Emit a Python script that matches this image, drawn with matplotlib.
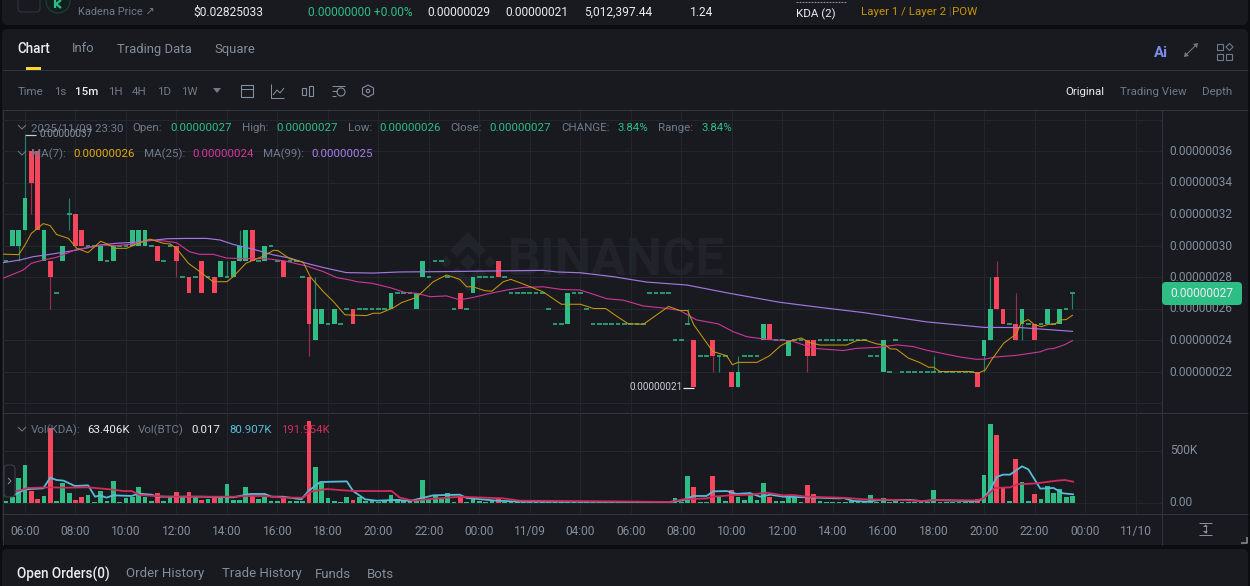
import matplotlib
matplotlib.use("Agg")
import matplotlib.pyplot as plt
from matplotlib.patches import FancyBboxPatch, Rectangle, Circle, Polygon
from matplotlib.transforms import ScaledTranslation

plt.rcParams['font.family'] = ['Roboto', 'DejaVu Sans']

# ---------- data (prices in units of 1e-8, volume in thousands) ----------
first_index = -3
opens = [
 29,30,30,31,36,36,29,29,27,29,
 32,32,31,30,30,29,29,29,30,30,
 30,30,30,30,30,29,30,30,28,28,
 28,29,28,28,28,28,28,29,29,31,
 29,29,30,29,29,29,29,28,28,24,
 25,25,25,25,26,26,26,26,26,26,
 26,26,27,27,27,26,28,28,29,29,
 28,26,27,26,27,28,28,28,29,28,
 27,27,27,27,27,27,26,25,25,25,
 27,27,26,25,25,25,25,25,25,25,
 25,25,27,27,27,27,24,24,25,24,
 23,23,24,23,23,22,21,23,23,23,
 24,25,24,24,23,24,24,24,24,24,
 24,24,24,24,24,24,24,23,23,22,
 22,24,22,22,22,22,22,22,22,22,
 22,22,22,22,22,23,24,28,26,25,
 25,25,25,25,25,25,25,25,26,27]
closes = [
 29,31,31,33,34,31,31,28,27,30,
 32,30,30,30,30,30,29,30,30,30,
 31,31,31,30,29,29,30,29,28,27,
 28,27,28,27,29,28,29,30,31,29,
 29,30,30,29,28,29,29,28,25,26,
 26,25,26,25,26,25,26,26,26,26,
 26,27,27,27,27,27,29,28,29,29,
 28,26,26,26,28,28,28,28,28,28,
 27,27,27,27,27,27,26,25,25,27,
 27,27,26,25,25,25,25,25,25,25,
 25,25,27,27,27,27,24,24,25,21,
 23,23,23,23,23,21,22,23,23,23,
 25,24,24,24,24,24,24,23,23,24,
 24,24,24,24,24,24,24,23,23,24,
 22,24,22,22,22,22,22,22,22,22,
 22,22,22,22,21,24,26,26,25,25,
 24,26,25,24,25,26,25,26,26,27]
wick_index = [-1,0,1,4,7,24,32,34,45,46,105,109,110,113,124,144,152,153,154,157,158,166]
wick_high  = [31,37,36,29,33,30,29,31,28,28,26,24,23,23,24,23,24,28,29,27,26,27]
wick_low   = [29,31,32,26,31,28,28,29,23,24,25,22,22,21,22,22,22,24,26,24,24,26]
volumes = [
 20,60,235,360,115,35,65,717,15,187,
 92,25,57,73,13,115,19,213,13,48,
 60,150,60,15,98,15,57,108,57,105,
 60,28,35,50,50,184,28,28,150,65,
 40,57,15,20,50,15,20,18,777,346,
 194,48,15,13,54,25,60,19,15,13,
 19,73,35,28,15,28,216,35,79,41,
 92,13,60,10,48,19,13,19,35,13,
 13,12,11,10,10,10,10,10,9,9,
 9,9,8,8,8,8,8,8,8,8,
 8,8,8,8,8,8,50,10,257,150,
 13,13,260,60,15,127,57,28,73,28,
 194,60,15,15,60,60,13,171,89,19,
 13,13,13,13,20,13,13,73,13,50,
 13,25,13,13,13,13,13,120,13,13,
 13,13,13,13,41,270,752,644,155,15,
 422,197,19,86,35,162,100,130,54,63.4]

ma7_i = [-3.4,-1,0,1,2.9,4,5,6.9,8.2,10,12,13,14.3,16.1,18,19.8,21.9,23,24,25.9,27.7,29.8,32,33,35,37.8,39.4,40.1,42,
         44.1,45.2,47.3,48.9,50.7,54.1,55.2,56.3,58.4,59.7,62,63.1,64.7,66.8,68.9,70,71,72.9,74,75.8,77,79,82.1,85,88,
         90.1,92,94,95.6,98,102,103.8,105,106,109,111.2,112.1,113,116,118,119.7,121,123,124.4,126,130.2,131.8,133.1,135,
         136.3,137.1,138.1,140,141.8,143.2,144,145,149.8,151,152.2,153.2,155.1,157.1,157.9,159,160,161.1,162.2,163.2,164,165,166]
ma7_v = [29.45,29.42,30.03,30.77,31.39,31.26,30.7,30.45,29.82,29.55,30.27,30.1,29.82,29.82,30.14,30.41,30.14,30.1,29.82,28.87,28.34,27.7,27.7,28.02,28.87,29.33,29.7,29.67,29.15,
         28.93,28.02,27.06,26.43,25.6,25.55,25.7,25.7,26.05,26.38,26.7,27.1,27.7,28.13,27.85,27.38,27.38,27.13,27.1,27.7,27.85,27.55,27.06,26.27,26.27,
         26,26,25.45,25.03,25,26.13,25.87,25.87,24.96,23.27,23,22.43,22.58,22.58,23,23.62,23.9,24.13,23.83,23.68,23.68,23.96,24,23.75,
         23.69,23.44,23.42,22.85,22.57,22.27,22.27,22,22,21.88,22.1,22.75,23.8,24.38,25.1,25.3,24.96,24.85,25,25,25.27,25.3,25.57]
ma25_i = [-3.5,-1.8,-0.3,1,2.9,5,6.6,8.2,10.3,12.4,14.5,17.2,19.8,21.9,24,26.1,27.7,29.8,32,34,38.3,41,
          44.6,47.3,49.4,51.5,52.6,55,57.9,60.2,62.1,64.2,66.8,68.9,71,73.7,76.3,79,82.1,85,88,
          90.1,92.2,94.8,98,101.2,103.8,106.4,109.9,112.2,114.4,117.5,121.5,125,129.7,131.8,135,
          138.2,140.8,142.9,148.2,150.8,152.2,153.8,157,160.9,162,163,164.7,166]
ma25_v = [27.92,28.19,28.44,28.87,29.08,29.25,29.5,29.76,29.88,30.03,29.99,30.1,30.35,30.29,30.18,29.6,29.44,29.44,29.2,29.18,29.16,29.03,
          28.7,28.34,27.96,27.81,27.7,27.6,27.32,27.02,26.96,26.75,26.8,26.55,26.7,26.96,27.17,27.34,27.38,27.21,27.17,
          26.9,26.62,26.53,26.16,26.03,25.87,25.28,25.02,24.53,24.21,24.04,23.94,23.47,23.33,23.47,23.53,
          23.69,23.58,23.35,22.92,22.77,22.79,22.92,23.02,23.25,23.42,23.46,23.69,23.96]
ma99_i = [-3.5,-0.8,1.3,4,8.2,11.9,14.5,17.2,19.8,22.5,25.6,28.8,30.9,33,36.2,39.4,42,44.6,47.3,50.9,55.2,59.4,65.8,73.7,82.1,84.3,88,
          93.2,98.5,104.9,111.7,119.7,126,132.9,142.9,152,157.7,166]
ma99_v = [28.91,29.08,29.29,29.44,29.71,30.03,30.14,30.2,30.31,30.43,30.45,30.45,30.35,30.07,29.76,29.4,29.2,28.87,28.6,28.28,28.25,28.32,28.34,28.38,28.42,28.32,28.27,
          28.02,27.68,27.49,26.96,26.39,26.07,25.74,25.15,24.8,24.79,24.55]
vol_ma5_i = [-3.2,-1.8,0,2.9,4,5,6.1,7.9,10,11.1,11.9,12.9,14,16.9,18,20.1,20.9,27.7,33,35.7,38,39.1,40.9,43.8,44.9,46.8,51,52,53.9,55.7,58.9,61,62.5,
             64.7,68.9,70,74.7,78.4,102.2,104.3,105.9,108,109.1,111.2,112.8,114.9,116.5,118.1,120.2,123.9,129,
             129.7,131.3,133.4,135.5,140.3,142.4,144,150.8,151.9,153,154,155,156.1,158,159,160.9,163,164.5,166.1]
vol_ma5_v = [73,73,130,140,241,219,213,162,168,60,73,51,73,67,89,79,60,60,54,86,86,60,60,35,114,200,206,114,35,22,29,19,41,
             73,79,48,22,13,10,25,67,67,111,114,86,95,60,79,60,54,44,
             48,19,13,29,29,16,29,16,41,130,248,270,270,349,321,137,143,92,83]
vol_ma10_i = [-1.6,0.5,4,6.6,10,13.5,15.6,16.9,18.2,22.5,27.7,33,35.7,38,40.9,44.1,45.2,47.8,52,58.1,59.4,61.5,62.5,
              68.9,75.8,78.4,102.2,104.3,108,109.1,111.7,114.9,117.5,120.2,121.8,123.9,129,
              130.2,132.9,138.1,142.4,144,150.8,151.9,153.7,156.1,157.2,160.3,163.5,164.8,166.1]
vol_ma10_v = [108,143,149,146,149,130,114,114,76,60,60,60,67,67,51,51,108,133,114,114,51,22,29,
              60,44,22,10,35,44,60,73,79,98,73,76,60,51,
              48,35,29,19,29,25,41,143,149,178,187,213,219,203]

price_ticks = [22,24,26,28,30,32,34,36]
time_ticks = list(range(0,177,8))
time_labels = ["06:00","08:00","10:00","12:00","14:00","16:00","18:00","20:00","22:00","00:00","11/09",
               "04:00","06:00","08:00","10:00","12:00","14:00","16:00","18:00","20:00","22:00","00:00","11/10"]

# ---------- style ----------
W, H = 1250, 586
PANEL, GAP = '#181a20', '#0b0d10'
GRID, SEP = '#22262d', '#2f3640'
MUTED, DIM, WHITE = '#707a8a', '#848e9c', '#eaecef'
GREEN, RED = '#2ebd85', '#f6465d'
GOLD = '#c99400'
YEL, MAG, PUR = '#c8960c', '#cf3697', '#a078e0'
VBLUE, VRED = '#56bdd8', '#d12c5c'
WM = '#202329'

fig = plt.figure(figsize=(W/100, H/100), dpi=100, facecolor=GAP)

def make_axes(l, t, r, b, z):
    a = fig.add_axes([l/W, 1-b/H, (r-l)/W, (b-t)/H], zorder=z)
    a.patch.set_alpha(0)
    for s in a.spines.values():
        s.set_visible(False)
    return a

bg = make_axes(0, 0, W, H, 0)
bg.set_xlim(0, W); bg.set_ylim(H, 0); bg.axis('off')
top = make_axes(0, 0, W, H, 3)
top.set_xlim(0, W); top.set_ylim(H, 0); top.axis('off')

def panel(x0, y0, x1, y1):
    bg.add_patch(FancyBboxPatch((x0+6, y0+6), x1-x0-12, y1-y0-12, boxstyle="round,pad=6,rounding_size=6",
                                fc=PANEL, ec='none'))

panel(2, -20, 1248, 25)
panel(2, 29, 1248, 545)
panel(2, 549, 1248, 620)

def T(x, y, s, c=MUTED, size=12, ha='left', weight='normal', family=None):
    kw = {'family': family} if family else {}
    top.text(x, y+1, s, color=c, fontsize=size*0.72, ha=ha, va='center', fontweight=weight, **kw)

def L(xs, ys, c=SEP, lw=1.0, ax=bg, **k):
    ax.plot(xs, ys, color=c, lw=lw*0.72, solid_capstyle='butt', **k)

# separators
L([2, 1248], [70, 70]); L([2, 1248], [110, 110])
L([2, 1248], [413, 413]); L([2, 1248], [513.5, 513.5])
L([2.5, 2.5], [110, 545]); L([1162, 1162], [110, 545])

# watermark
bg.text(616, 262, "BINANCE", color=WM, fontsize=37, fontweight='bold', ha='center', va='center', family='Roboto')
for cx, cy, r in [(468, 262, 8), (446, 262, 6), (490, 262, 6)]:
    bg.add_patch(Polygon([(cx-r, cy), (cx, cy-r), (cx+r, cy), (cx, cy+r)], fc=WM, ec='none'))
bg.add_patch(Polygon([(468, 232), (486, 250), (479, 257), (468, 246), (457, 257), (450, 250)], fc=WM, ec='none'))
bg.add_patch(Polygon([(468, 292), (486, 274), (479, 267), (468, 278), (457, 267), (450, 274)], fc=WM, ec='none'))

# ---------- top strip ----------
top.add_patch(FancyBboxPatch((20, -10), 18, 20, boxstyle="round,pad=2,rounding_size=4", fc='none', ec='#2f3640', lw=0.8))
top.add_patch(Circle((58, 1), 12, fc='#10201d', ec='#21403a', lw=0.8))
L([55, 55], [0, 8], GREEN, 2.2, ax=top)
L([61, 56, 61], [0, 4, 8], GREEN, 2.2, ax=top)
T(78, 11, "Kadena Price ↗", MUTED, 11)
T(193, 11, "$0.02825033", WHITE, 12)
T(308, 11, "0.00000000 +0.00%", GREEN, 12)
T(427, 11, "0.00000029", WHITE, 12)
T(505, 11, "0.00000021", WHITE, 12)
T(584, 11, "5,012,397.44", WHITE, 12)
T(690, 11, "1.24", WHITE, 12)
L([796, 846], [2, 2], DIM, 1, ax=top, ls=(0, (2, 1)))
T(796, 13, "KDA (2)", WHITE, 11.5)
T(861, 11, "Layer 1 / Layer 2", GOLD, 11.5)
T(948, 11, "|", '#474d57', 10)
T(952, 11, "POW", GOLD, 11.5)

# ---------- tabs ----------
T(17, 48, "Chart", WHITE, 13.5, weight='medium')
T(72, 48, "Info", DIM, 13)
T(117, 48, "Trading Data", DIM, 13)
T(214, 48, "Square", DIM, 13)
top.add_patch(Rectangle((26, 67), 15, 3, fc='#fcd535', ec='none'))
T(1154, 52, "Ai", '#7c8cf0', 15, weight='bold')
L([1187, 1195], [54, 46], MUTED, 1, ax=top)
top.add_patch(Polygon([(1198, 43), (1193, 44), (1197, 48)], fc=MUTED, ec='none'))
top.add_patch(Polygon([(1184, 57), (1189, 56), (1185, 52)], fc=MUTED, ec='none'))
for x, y in [(1217, 44), (1217, 54), (1226, 54)]:
    top.add_patch(Rectangle((x, y), 6, 6, fc='none', ec=MUTED, lw=0.8))
top.add_patch(Polygon([(1226, 47), (1229.5, 43.5), (1233, 47), (1229.5, 50.5)], fc='none', ec=MUTED, lw=0.8))

# ---------- toolbar ----------
T(18, 91, "Time", MUTED, 11.5)
T(54, 91, "1s", MUTED, 11.5)
T(75, 91, "15m", WHITE, 11.5, weight='medium')
for x, s in [(108, "1H"), (132, "4H"), (157, "1D"), (181, "1W")]:
    T(x, 91, s, MUTED, 11.5)
top.add_patch(Polygon([(213, 88), (221, 88), (217, 93)], fc=MUTED, ec='none'))
top.add_patch(Rectangle((241, 85), 12, 12, fc='none', ec=DIM, lw=0.8))
L([241, 253], [88.5, 88.5], DIM, 1, ax=top)
L([271, 271, 284], [84, 98, 98], DIM, 1, ax=top)
L([273, 277, 280, 284], [95, 90, 93, 88], DIM, 1, ax=top)
top.add_patch(Rectangle((302, 88), 4, 7, fc='none', ec=DIM, lw=0.8))
top.add_patch(Rectangle((309, 86), 4, 10, fc='none', ec=DIM, lw=0.8))
L([332, 345], [86, 86], DIM, 1, ax=top)
L([332, 337], [91, 91], DIM, 1, ax=top)
L([332, 336], [96, 96], DIM, 1, ax=top)
top.add_patch(Circle((341, 92), 4, fc='none', ec=DIM, lw=0.8))
top.add_patch(Polygon([(368, 85), (373.5, 88), (373.5, 94), (368, 97), (362.5, 94), (362.5, 88)], fc='none', ec=DIM, lw=0.8))
top.add_patch(Circle((368, 91), 1.7, fc='none', ec=DIM, lw=0.8))
T(1065, 91, "Original", WHITE, 11.5)
T(1120, 91, "Trading View", MUTED, 11.5)
T(1202, 91, "Depth", MUTED, 11.5)

# ---------- chart header text ----------
def chevron(x, y):
    L([x-4, x, x+4], [y-2, y+2, y-2], MUTED, 1, ax=top)

chevron(22, 127)
for x, s, c in [(31, "2025/11/09 23:30", MUTED), (132, "Open:", MUTED), (170, "0.00000027", GREEN),
                (242, "High:", MUTED), (276, "0.00000027", GREEN), (348, "Low:", MUTED), (379, "0.00000026", GREEN),
                (450, "Close:", MUTED), (489, "0.00000027", GREEN), (561, "CHANGE:", MUTED), (618, "3.84%", GREEN),
                (658, "Range:", MUTED), (701, "3.84%", GREEN)]:
    T(x, 127, s, c, 11.5)
chevron(22, 153)
for x, s, c in [(31, "MA(7):", MUTED), (73, "0.00000026", '#e0a90a'), (144, "MA(25):", MUTED), (192, "0.00000024", '#d5379b'),
                (263, "MA(99):", MUTED), (311, "0.00000025", '#a97ee8')]:
    T(x, 153, s, c, 11.5)
chevron(22, 429)
for x, s, c in [(31, "Vol(KDA):", MUTED), (87, "63.406K", WHITE), (138, "Vol(BTC)", MUTED), (191, "0.017", WHITE),
                (229, "80.907K", VBLUE), (281, "191.954K", VRED)]:
    T(x, 429, s, c, 11.5)

# ---------- price chart ----------
X0, PX = 25.0, 6.31
def px_to_i(x):
    return (x - X0) / PX
def vol_lim(y):
    return (503 - y) * 100 / 10.5
def price_lim(y):
    return 36 - (y - 151) / 15.75
def raise_labels(labels, px):
    for lab in labels:
        lab.set_transform(lab.get_transform() + ScaledTranslation(0, px/100, fig.dpi_scale_trans))

ax = make_axes(3, 111, 1162, 412, 1)
ax.set_xlim(px_to_i(3), px_to_i(1162))
ax.set_ylim(price_lim(412), price_lim(111))
ax.set_xticks(time_ticks)
ax.set_xticklabels([])
ax.set_yticks(price_ticks)
ax.set_yticks([20, 38], minor=True)
ax.set_yticklabels([f"0.000000{p}" for p in price_ticks])
ax.yaxis.tick_right()
ax.tick_params(axis='both', which='both', length=0, labelcolor=DIM, labelsize=12*0.72, pad=5.6)
ax.grid(True, which='both', color=GRID, lw=0.72)
ax.set_axisbelow(True)
raise_labels(ax.get_yticklabels(), 1)

n = len(opens)
idx = [first_index + k for k in range(n)]
up = [c >= o for o, c in zip(opens, closes)]
wick_colors = []
for w in wick_index:
    wick_colors.append('#1f8563' if up[w - first_index] else '#9a2f47')
ax.vlines(wick_index, wick_low, wick_high, colors=wick_colors, lw=0.85, zorder=2)
body_x, body_h, body_b, body_c, dash_x, dash_y = [], [], [], [], [], []
for i, o, c, u in zip(idx, opens, closes, up):
    if o == c:
        dash_x.append(i); dash_y.append(c)
    else:
        body_x.append(i); body_b.append(min(o, c)); body_h.append(abs(o - c))
        body_c.append(GREEN if u else RED)
ax.bar(body_x, body_h, bottom=body_b, width=0.75, color=body_c, linewidth=0, zorder=3)
ax.hlines(dash_y, [d - 0.37 for d in dash_x], [d + 0.37 for d in dash_x], colors=GREEN, lw=1.1, zorder=3)
ax.plot(ma99_i, ma99_v, color=PUR, lw=0.85, zorder=4)
ax.plot(ma25_i, ma25_v, color=MAG, lw=0.8, zorder=4)
ax.plot(ma7_i, ma7_v, color=YEL, lw=0.75, zorder=5)

# extreme labels and current price
L([25, 36], [135, 135], '#c9ced6', 1.2, ax=top)
T(39, 133, "0.00000037", '#8f96a3', 10)
L([683, 694], [387.5, 387.5], WHITE, 1.2, ax=top)
T(630, 386.5, "0.00000021", '#c9ced6', 10)
top.add_patch(FancyBboxPatch((1165, 285), 74, 17, boxstyle="round,pad=3,rounding_size=4", fc=GREEN, ec='none'))
T(1170, 292.5, "0.00000027", WHITE, 12)

# ---------- volume chart ----------
vx = make_axes(3, 414, 1162, 513, 1)
vx.set_xlim(px_to_i(3), px_to_i(1162))
vx.set_ylim(vol_lim(513), vol_lim(414))
vx.set_xticks(time_ticks)
vx.set_xticklabels(time_labels)
vx.set_yticks([0, 500])
vx.set_yticklabels(["0.00", "500K"])
vx.yaxis.tick_right()
vx.tick_params(axis='both', length=0, labelcolor=DIM, labelsize=12*0.72)
vx.tick_params(axis='y', pad=5.6)
vx.tick_params(axis='x', pad=8.5)
vx.grid(True, color=GRID, lw=0.72)
vx.set_axisbelow(True)
raise_labels(vx.get_yticklabels(), 1.5)
vx.bar(idx, volumes, width=0.75, color=[GREEN if u else RED for u in up], linewidth=0, zorder=3)
vx.plot(vol_ma5_i, vol_ma5_v, color=VBLUE, lw=1.3, zorder=4)
vx.plot(vol_ma10_i, vol_ma10_v, color=VRED, lw=1.3, zorder=5)

# left handle, scale icon, resize corner
top.add_patch(FancyBboxPatch((6, 467), 7, 28, boxstyle="round,pad=2,rounding_size=4", fc=PANEL, ec='#3a404a', lw=0.8))
L([8, 11, 8], [478, 481, 484], DIM, 1, ax=top)
L([1199, 1212], [523, 523], DIM, 1, ax=top)
L([1199, 1212], [535, 535], DIM, 1, ax=top)
L([1205.5, 1205.5], [525, 533], DIM, 1, ax=top)
top.add_patch(Polygon([(1203, 527), (1205.5, 524.5), (1208, 527)], fc=DIM, ec='none'))
top.add_patch(Polygon([(1203, 531), (1205.5, 533.5), (1208, 531)], fc=DIM, ec='none'))
L([1241, 1247, 1247], [543, 543, 537], DIM, 1.6, ax=top)

# ---------- bottom tabs ----------
T(17, 573, "Open Orders(0)", WHITE, 13.5, weight='medium')
T(126, 573, "Order History", DIM, 13.2)
T(222, 573, "Trade History", DIM, 13.2)
T(315, 573, "Funds", DIM, 13.2)
T(367, 573, "Bots", DIM, 13.2)

fig.savefig("out.png", dpi=100, facecolor=GAP)
